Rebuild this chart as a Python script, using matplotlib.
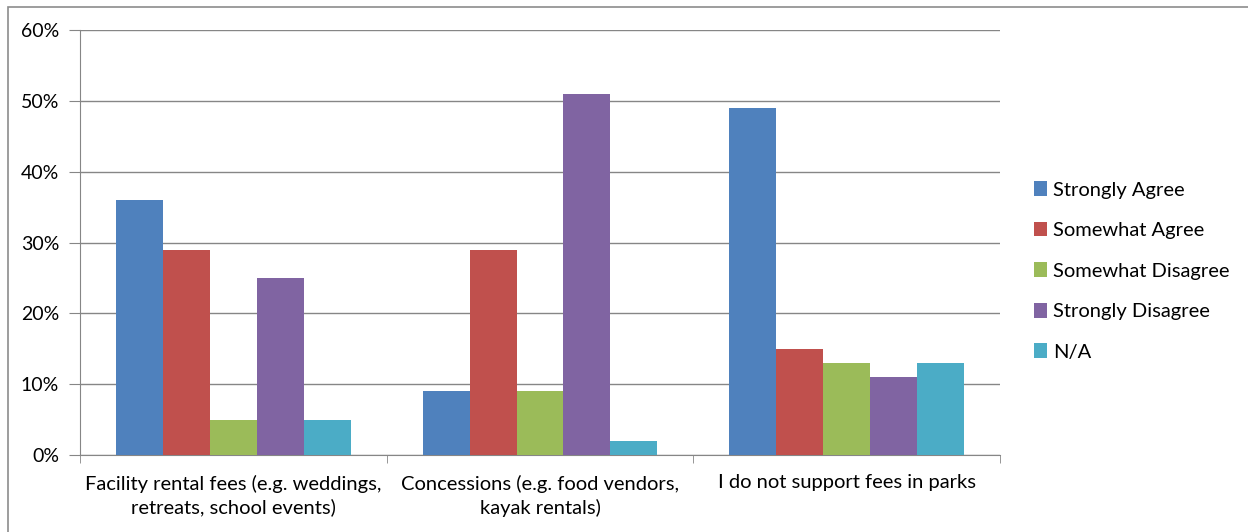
import matplotlib
matplotlib.use("Agg")
import matplotlib.pyplot as plt
import numpy as np
from matplotlib.patches import Rectangle

plt.rcParams['font.family'] = ['Lato', 'DejaVu Sans']

categories = ["Facility rental fees (e.g. weddings,\nretreats, school events)",
              "Concessions (e.g. food vendors,\nkayak rentals)",
              "I do not support fees in parks"]
series_names = ["Strongly Agree", "Somewhat Agree", "Somewhat Disagree",
                "Strongly Disagree", "N/A"]
strongly_agree = [36, 9, 49]
somewhat_agree = [29, 29, 15]
somewhat_disagree = [5, 9, 13]
strongly_disagree = [25, 51, 11]
not_applicable = [5, 2, 13]
colors = ["#4F81BD", "#C0504D", "#9BBB59", "#8064A2", "#4BACC6"]

values = [strongly_agree, somewhat_agree, somewhat_disagree,
          strongly_disagree, not_applicable]

fs = 14.5

fig = plt.figure(figsize=(12.48, 5.32), dpi=100)
ax = fig.add_axes([80 / 1248, 1 - 455 / 532, 920 / 1248, 425 / 532])

# outer chart border
fig.patches.append(Rectangle((8 / 1248, -0.01), 1.05, 1 - 7 / 532 + 0.01,
                             transform=fig.transFigure, fill=False,
                             edgecolor="#8c8c8c", linewidth=1.2))

x = np.arange(len(categories))
bar_w = 0.766 / 5
for i, (name, vals) in enumerate(zip(series_names, values)):
    ax.bar(x - 0.383 + bar_w * (i + 0.5), vals, width=bar_w, color=colors[i],
           label=name, zorder=3)

ax.set_xlim(-0.5, 2.5)
ax.set_ylim(0, 60)
ax.set_yticks(np.arange(0, 61, 10))
ax.set_yticklabels([f"{v}%" for v in range(0, 61, 10)], fontsize=14)
ax.yaxis.grid(True, color="#868686", linewidth=1, zorder=0)

ax.set_xticks(x)
ax.set_xticklabels(categories, fontsize=fs, linespacing=1.4)
ax.tick_params(axis="x", length=0, pad=14)
ax.set_xticks([-0.5, 0.5, 1.5, 2.5], minor=True)
ax.tick_params(axis="x", which="minor", length=6, color="#868686", direction="out")
ax.tick_params(axis="y", length=8, color="#868686", pad=7)

for side in ["top", "right"]:
    ax.spines[side].set_visible(False)
for side in ["left", "bottom"]:
    ax.spines[side].set_color("#868686")

ax.legend(loc="center left", bbox_to_anchor=(1.017, 0.433), frameon=False,
          fontsize=fs, handlelength=0.65, handleheight=0.75,
          handletextpad=0.3, labelspacing=1.15)

fig.savefig("out.png", dpi=100)
